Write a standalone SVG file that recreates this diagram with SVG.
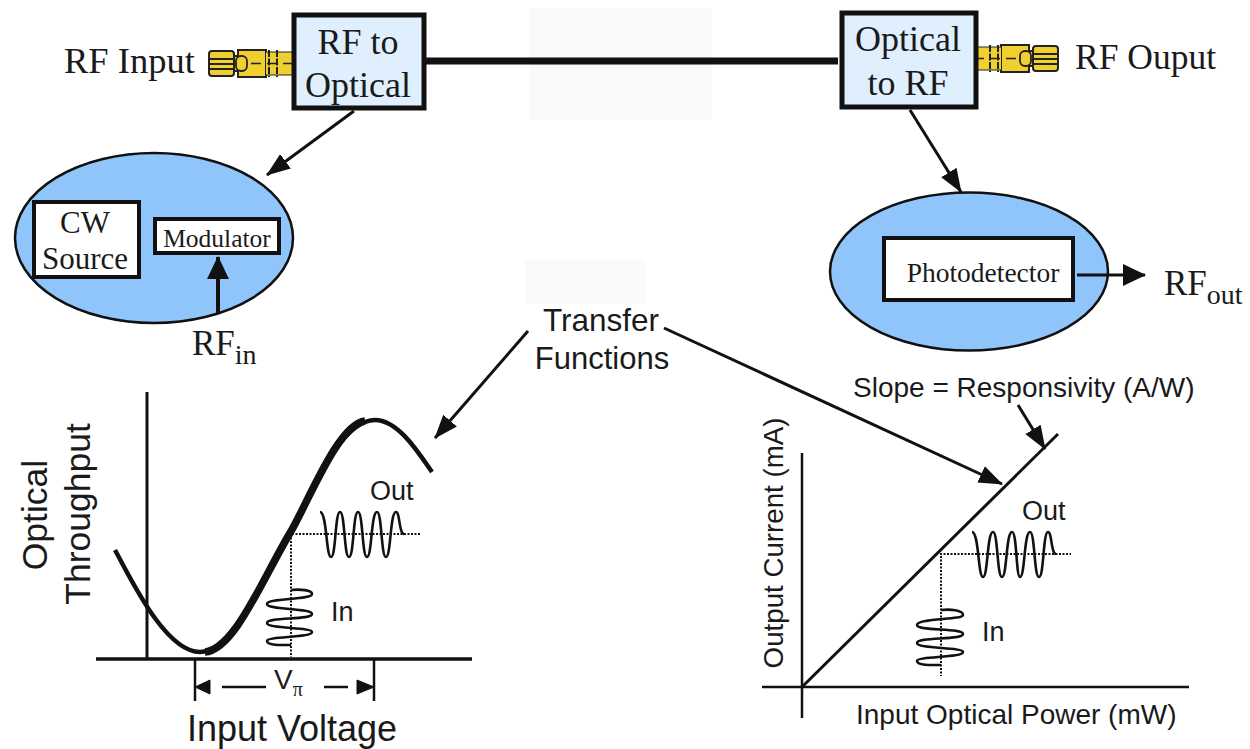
<svg xmlns="http://www.w3.org/2000/svg" width="1250" height="749" viewBox="0 0 1250 749">
<defs>
<marker id="ah" markerUnits="userSpaceOnUse" markerWidth="24" markerHeight="20" refX="23" refY="10" orient="auto"><path d="M0,1 L24,10 L0,19 Z" fill="#111"/></marker>
<marker id="big" markerUnits="userSpaceOnUse" markerWidth="24" markerHeight="24" refX="23" refY="12" orient="auto"><path d="M1,1 L24,12 L1,23 Z" fill="#111"/></marker>
<g id="conn">
<rect x="0" y="3" width="25" height="25" rx="3" fill="#f0d030" stroke="#222" stroke-width="2"/>
<path d="M1,11H24M1,16H24M1,21H24" stroke="#222" stroke-width="2" fill="none"/>
<path d="M25,8H29V2H57V29H29V23H25Z" fill="#f0d030" stroke="#222" stroke-width="2"/>
<rect x="27" y="8" width="11" height="15" rx="5" fill="#f0d030" stroke="#222" stroke-width="1.8"/>
<rect x="57" y="4" width="27" height="23" fill="#f0d030"/>
<path d="M57,4H84M57,27H84" stroke="#222" stroke-width="1" fill="none"/>
<path d="M60,2V29M68,2V29" stroke="#222" stroke-width="2" stroke-dasharray="7 1.5" fill="none"/>
<path d="M42,15.500H84" stroke="#222" stroke-width="1.600" stroke-dasharray="10 6" fill="none"/>
</g>
</defs>
<style>
.s{font-family:"Liberation Serif",serif;fill:#1a1a1a}
.a{font-family:"Liberation Sans",Arial,sans-serif;fill:#1a1a1a}
.box{fill:#e0effd;stroke:#111;stroke-width:5}
.ell{fill:#8fc5fb;stroke:#111;stroke-width:2.5}
.wb{fill:#fff;stroke:#111;stroke-width:4}
.l{fill:none;stroke:#111;stroke-width:2.500}
.c{fill:none;stroke:#111;stroke-width:3}
.th{fill:none;stroke:#111;stroke-width:3}
.dot{fill:none;stroke:#111;stroke-width:2;stroke-dasharray:2 1.5}
.wave{fill:none;stroke:#111;stroke-width:2.600}
</style>
<rect width="1250" height="749" fill="#fff"/>
<rect x="529" y="8" width="183" height="112" fill="#f9f9fc"/>
<rect x="525" y="260" width="121" height="44" fill="#fafafc"/>

<g id="rf-in-conn"><use href="#conn" x="209" y="48"/></g>
<g id="rf-out-conn"><use href="#conn" transform="translate(1058,43) scale(-1,1)"/></g>
<g id="rf-to-optical"><rect class="box" x="294" y="15" width="130" height="93"/>
<text class="s" font-size="36" text-anchor="middle" x="358" y="54">RF to</text>
<text class="s" font-size="36" text-anchor="middle" x="358" y="97">Optical</text></g>
<g id="optical-to-rf"><rect class="box" x="842" y="13" width="134" height="94"/>
<text class="s" font-size="36" text-anchor="middle" x="908" y="51">Optical</text>
<text class="s" font-size="36" text-anchor="middle" x="908" y="95">to RF</text></g>
<text class="s" font-size="36.500" x="64" y="73">RF Input</text>
<text class="s" font-size="35.500" x="1075" y="69">RF Ouput</text>

<g id="tx"><ellipse class="ell" cx="154" cy="238" rx="139" ry="85"/>
<rect class="wb" x="34" y="202" width="105" height="75"/>
<text class="s" font-size="31" text-anchor="middle" x="85" y="233">CW</text>
<text class="s" font-size="31" text-anchor="middle" x="85" y="269">Source</text>
<rect class="wb" x="155" y="219" width="124" height="34"/>
<text class="s" font-size="25.500" text-anchor="middle" x="217" y="247">Modulator</text></g>
<g id="rx"><ellipse class="ell" cx="969" cy="271.500" rx="139" ry="79"/>
<rect class="wb" x="884" y="238" width="189" height="62"/>
<text class="s" font-size="27.500" text-anchor="middle" x="983" y="282">Photodetector</text></g>
<text class="s" font-size="35" x="192" y="355">RF<tspan font-size="28" dy="9">in</tspan></text>
<text class="s" font-size="35" x="1164" y="295">RF<tspan font-size="28" dy="9">out</tspan></text>

<text class="a" font-size="31.500" text-anchor="middle" x="601" y="331">Transfer</text>
<text class="a" font-size="31" text-anchor="middle" x="602" y="369">Functions</text>

<g id="left-plot">
<path class="th" d="M147,392V660"/>
<path d="M96,659H472" stroke="#111" stroke-width="3.500" fill="none"/>
<path d="M115,550C130,577 165,652 200,652C232,652 262,580 290,533C308,503 338,420 375,420C398,420 418,452 432,472" fill="none" stroke="#111" stroke-width="4.500"/>
<path d="M205,652C234,650 262,580 290,533C308,503 338,424 365,421" fill="none" stroke="#111" stroke-width="7.500"/>
<path class="dot" d="M292,534H420M291,534V657"/>
<path class="wave" d="M320,512C327,512 326,557 331,557C336,557 335,512 340,512C345,512 344,557 349,557C354,557 353,512 358,512C363,512 362,557 367,557C372,557 371,512 377,512C382,512 381,557 386,557C391,557 390,512 396,512C400,512 399,534 404,534"/>
<path class="wave" d="M291,590C300,589 312,590 312,594C312,600 267,598 267,604C267,610 312,608 312,614C312,620 267,617 267,623C267,629 312,627 312,632C312,638 267,636 267,641C267,646 285,645 291,645"/>
<text class="a" font-size="27" x="370" y="500">Out</text>
<text class="a" font-size="27" x="331" y="621">In</text>
<path class="l" d="M195,660V701M374,660V701M222,687H266M324,687H348"/>
<path d="M195,687L210,680V694Z M374,687L357,680V694Z" fill="#111" stroke="#111"/>
<text class="a" font-size="28" x="274" y="689">V<tspan font-size="20" dy="7" font-family="Liberation Serif">π</tspan></text>
<text class="a" font-size="36" text-anchor="middle" x="292" y="741">Input Voltage</text>
<text class="a" font-size="35.500" text-anchor="middle" transform="translate(47,515) rotate(-90)">Optical</text>
<text class="a" font-size="35.500" text-anchor="middle" transform="translate(90,514) rotate(-90)">Throughput</text>
</g>

<g id="right-plot">
<path class="l" d="M802,453V718M762,687H1189"/>
<path class="th" d="M803,686L1058,434"/>
<path class="dot" d="M940,554H1071M941,556V676"/>
<path class="wave" d="M972,532C979,532 978,577 983,577C988,577 987,532 993,532C998,532 997,577 1002,577C1007,577 1006,532 1012,532C1017,532 1016,577 1020,577C1025,577 1024,532 1030,532C1035,532 1034,577 1039,577C1044,577 1043,532 1048,532C1052,532 1051,554 1056,554"/>
<path class="wave" d="M941,610C950,609 963,610 963,615C963,620 917,618 917,625C917,631 963,628 963,634C963,640 917,637 917,643C917,649 963,647 963,652C963,658 917,656 917,661C917,666 935,665 941,665"/>
<text class="a" font-size="27" x="1022" y="520">Out</text>
<text class="a" font-size="27" x="982" y="641">In</text>
<text class="a" font-size="28" x="853" y="397">Slope = Responsivity (A/W)</text>
<text class="a" font-size="28" x="856" y="724">Input Optical Power (mW)</text>
<text class="a" font-size="27.700" text-anchor="middle" transform="translate(783,543) rotate(-90)">Output Current (mA)</text>
</g>

<g id="connectors">
<path d="M425,61H838" stroke="#111" stroke-width="7" fill="none"/>
<path class="c" d="M354,111L267,175" marker-end="url(#ah)"/>
<path class="c" d="M910,110L961,192" marker-end="url(#ah)"/>
<path d="M218,314V257" stroke="#111" stroke-width="4" fill="none" marker-end="url(#big)"/>
<path d="M1077,275H1145" stroke="#111" stroke-width="3" fill="none" marker-end="url(#big)"/>
<path class="c" d="M528,331L435,438" marker-end="url(#ah)"/>
<path class="c" d="M664,328L1002,484" marker-end="url(#ah)"/>
<path class="c" d="M1018,405L1045,449" marker-end="url(#ah)"/>
</g>
</svg>
